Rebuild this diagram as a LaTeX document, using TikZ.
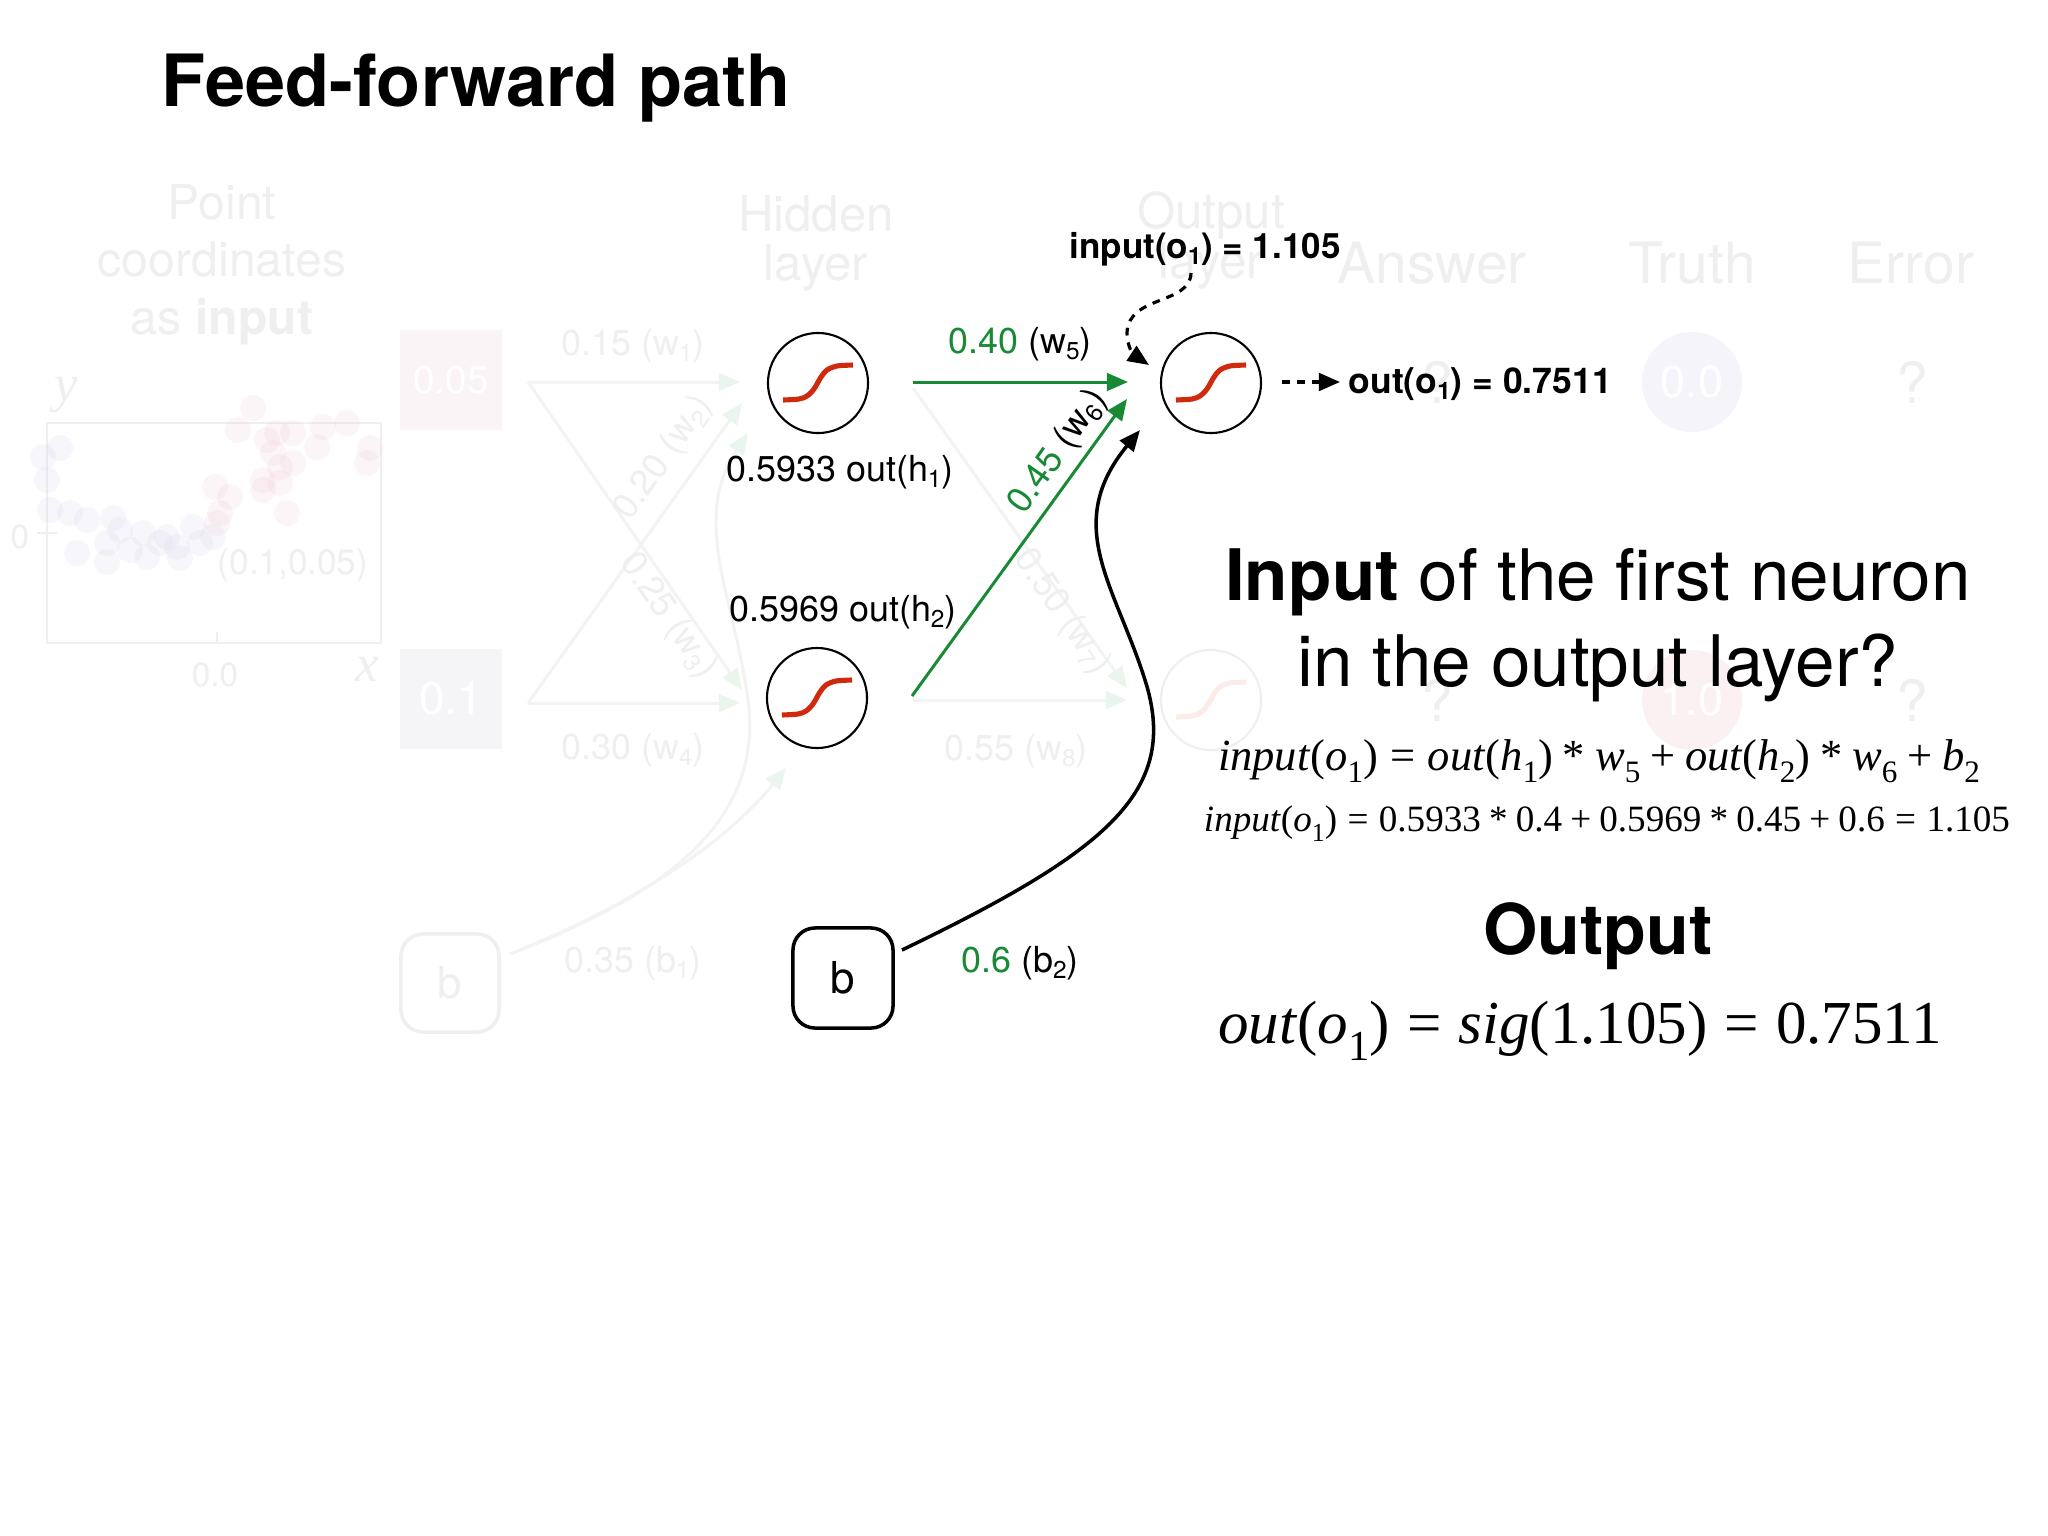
\documentclass[tikz,border=0pt]{standalone}
\usepackage{fontspec}
\setmainfont{TeX Gyre Heros}
\newfontfamily\tms{Liberation Serif}
\usepackage{graphicx}
\usetikzlibrary{arrows.meta}
\definecolor{gr}{RGB}{24,138,54}
\definecolor{sigred}{RGB}{208,42,14}
\definecolor{ghost}{RGB}{239,239,239}
\definecolor{ghostln}{RGB}{242,244,242}
\definecolor{ghostgreen}{RGB}{234,245,237}
\definecolor{ghostblue}{RGB}{215,212,235}
\definecolor{ghostpink}{RGB}{240,196,210}
\definecolor{ghostpbox}{RGB}{250,244,246}
\definecolor{ghostbbox}{RGB}{245,245,247}
\definecolor{ghostlav}{RGB}{245,244,250}
\definecolor{ghostrose}{RGB}{251,241,243}
\definecolor{ghostsig}{RGB}{251,236,232}
\newcommand{\fsz}[1]{\fontsize{#1}{#1}\selectfont}
\newcommand{\sbs}[1]{\raisebox{-0.18em}{\scalebox{0.68}{#1}}}
\newcommand{\msb}[1]{\raisebox{-0.28em}{\scalebox{0.7}{#1}}}
\newcommand{\ital}[1]{\textit{#1}}
\newcommand{\req}{\hspace{0.28em}=\hspace{0.28em}}
\newcommand{\rop}[1]{\hspace{0.22em}#1\hspace{0.22em}}
\newcommand{\sigcurve}{plot[smooth] coordinates {(-35,17) (-19,16) (-11,13) (-4,6) (3,-6) (9,-13) (19,-17) (35,-18)}}
\begin{document}
\begin{tikzpicture}[x=0.01cm,y=-0.01cm,
  neuron/.style={circle, draw=black, line width=0.6pt, minimum size=1cm, inner sep=0pt},
  sigline/.style={draw=sigred, line width=1.45pt, line cap=butt},
  garrow/.style={draw=gr, line width=0.85pt, -{Triangle[length=6pt,width=5pt]}},
  barrow/.style={draw=black, line width=1pt, -{Triangle[length=6pt,width=5pt]}},
  darrow/.style={draw=black, line width=0.9pt, dash pattern=on 2.2pt off 2pt, -{Triangle[length=6pt,width=5pt]}},
  lbl/.style={font=\fsz{10.2}, inner sep=0pt, anchor=base},
  blbl/.style={font=\fsz{9.8}\bfseries, inner sep=0pt, anchor=base},
  gtext/.style={text=ghost, inner sep=0pt, anchor=base},
  gline/.style={draw=ghostln, line width=0.85pt, -{Triangle[length=6pt,width=5pt,color=ghostgreen]}},
  dotb/.style={fill=ghostblue, fill opacity=0.2},
  dotp/.style={fill=ghostpink, fill opacity=0.17}
]
\useasboundingbox[fill=white] (0,0) rectangle (2048,1536);

% ---------------- ghost (faded) layer ----------------
\node[gtext, font=\fsz{13.7}] (gp1) at (222,219) {Point};
\node[gtext, font=\fsz{13.7}] (gp2) at (222,276) {coordinates};
\node[gtext, font=\fsz{13.7}] (gp3) at (222,334) {as \textbf{input}};
\node[gtext, font=\fsz{14}] (gh1) at (816,231) {Hidden};
\node[gtext, font=\fsz{14}] (gh2) at (816,280) {layer};
\node[gtext, font=\fsz{14}] (go1t) at (1211,228) {Output};
\node[gtext, font=\fsz{14}] (go2t) at (1211,278) {layer};
\node[gtext, font=\fsz{16.2}] (gans) at (1432,283) {Answer};
\node[gtext, font=\fsz{16.2}] (gtru) at (1692,283) {Truth};
\node[gtext, font=\fsz{16.2}] (gerr) at (1911,283) {Error};

% scatter plot
\draw[draw=ghost, line width=0.5pt] (47,423) rectangle (381,643);
\draw[draw=ghost, line width=0.5pt] (37,533) -- (57,533);
\draw[draw=ghost, line width=0.5pt] (217,632) -- (217,644);
\node[gtext, font=\tms\itshape\fsz{15}] (gy) at (66,401) {y};
\node[gtext, font=\tms\itshape\fsz{15}] (gx) at (367,681) {x};
\node[gtext, font=\fsz{9.5}] (g0) at (20,548) {0};
\node[gtext, font=\fsz{9.5}] (g00) at (215,686) {0.0};
\node[gtext, font=\fsz{10}] (gpt) at (293,574) {(0.1,0.05)};
\foreach \p in {(43,457),(60,448),(47,480),(50,510),(70,513),(87,520),(77,553),(113,518),(120,530),(107,543),(107,562),(130,550),(143,533),(147,557),(160,543),(167,537),(177,547),(180,558),(193,527),(200,543),(213,537)}
  \fill[dotb] \p circle[radius=0.13cm];
\foreach \p in {(215,487),(230,497),(220,513),(217,523),(253,408),(238,430),(267,440),(277,433),(293,433),(273,453),(280,467),(293,463),(263,480),(280,483),(263,490),(287,513),(317,447),(323,427),(347,423),(370,448),(367,463)}
  \fill[dotp] \p circle[radius=0.13cm];

% input boxes
\node[fill=ghostpbox, minimum width=1.02cm, minimum height=1cm, inner sep=0pt, text=white, font=\fsz{11}] (gin1) at (451,380) {0.05};
\node[fill=ghostbbox, minimum width=1.02cm, minimum height=1cm, inner sep=0pt, text=white, font=\fsz{13}] (gin2) at (451,699) {0.1};
\node[draw=ghost, line width=1pt, rounded corners=0.22cm, minimum size=0.98cm, inner sep=0pt, text=ghost, font=\fsz{12.5}] (gb1) at (450,983) {b};

\coordinate (gs1) at (528,382);
\coordinate (gs2) at (528,703);
\coordinate (ge1) at (740,382);
\coordinate (ge2) at (742,690);
\coordinate (ge3) at (742,403);
\coordinate (ge4) at (740,703);
\draw[gline] (gs1) -- (ge1);
\draw[gline] (gs1) -- (ge2);
\draw[gline] (gs2) -- (ge3);
\draw[gline] (gs2) -- (ge4);
\coordinate (gbs) at (510,954);
\coordinate (gbe1) at (748,433);
\coordinate (gbe2) at (786,768);
\draw[gline] (gbs) .. controls (650,900) and (765,830) .. (748,700) .. controls (735,600) and (690,520) .. (gbe1);
\draw[gline] (gbs) .. controls (620,910) and (720,850) .. (gbe2);

\node[gtext, font=\fsz{10.2}] (gw1) at (633,355) {0.15 (w\sbs{1})};
\node[gtext, font=\fsz{10.2}] (gw4) at (633,759) {0.30 (w\sbs{4})};
\node[gtext, font=\fsz{10.2}] (gb1l) at (633,972) {0.35 (b\sbs{1})};
\node[gtext, font=\fsz{10.2}, anchor=center, rotate=55] (gw2) at (664,458) {0.20 (w\sbs{2})};
\node[gtext, font=\fsz{10.2}, anchor=center, rotate=-55] (gw3) at (668,616) {0.25 (w\sbs{3})};

% hidden -> output (faded)
\coordinate (gh7s) at (913,388);
\coordinate (gh7e) at (1127,688);
\coordinate (gh8s) at (913,700);
\coordinate (gh8e) at (1127,700);
\draw[gline] (gh7s) -- (gh7e);
\draw[gline] (gh8s) -- (gh8e);
\node[gtext, font=\fsz{10.2}] (gw8) at (1016,760) {0.55 (w\sbs{8})};
\node[gtext, font=\fsz{10.2}, anchor=center, rotate=-55] (gw7) at (1062,612) {0.50 (w\sbs{7})};

\node[circle, draw=ghost, line width=0.6pt, minimum size=1cm, inner sep=0pt] (go2) at (1211,700) {};
\begin{scope}[shift={(go2)}]
  \draw[draw=ghostsig, line width=1.45pt] \sigcurve;
\end{scope}

\node[circle, fill=ghostlav, minimum size=1cm, inner sep=0pt, text=white, font=\fsz{12.8}] (gt1) at (1692,382) {0.0};
\node[circle, fill=ghostrose, minimum size=1cm, inner sep=0pt, text=white, font=\fsz{12.8}] (gt2) at (1692,700) {1.0};
\node[gtext, font=\fsz{16.2}] (gq1) at (1437,403) {?};
\node[gtext, font=\fsz{16.2}] (gq2) at (1437,721) {?};
\node[gtext, font=\fsz{16.2}] (gq3) at (1912,403) {?};
\node[gtext, font=\fsz{16.2}] (gq4) at (1912,721) {?};

% ---------------- main layer ----------------
\node[anchor=base west, inner sep=0pt, font=\fsz{20.5}\bfseries] (title) at (161,106) {Feed-forward path};

\node[neuron] (h1) at (818,383) {};
\node[neuron] (h2) at (817,698) {};
\node[neuron] (o1) at (1211,383) {};
\foreach \n in {h1,h2,o1} {
  \begin{scope}[shift={(\n)}]
    \draw[sigline] \sigcurve;
  \end{scope}
}
\node[draw=black, line width=1pt, rounded corners=0.22cm, minimum size=1cm, inner sep=0pt, font=\fsz{12.5}] (b2) at (843,978) {b};

\node[lbl] (lh1) at (840,481) {0.5933 out(h\sbs{1})};
\node[lbl] (lh2) at (843,621) {0.5969 out(h\sbs{2})};
\node[lbl] (lw5) at (1020,353) {{\color{gr}0.40} (w\sbs{5})};
\node[lbl, anchor=center, rotate=54.7] (lw6) at (1058,452) {{\color{gr}0.45} (w\sbs{6})};
\node[lbl] (lb2) at (1020,972) {{\color{gr}0.6} (b\sbs{2})};

\coordinate (w5s) at (913,382);
\coordinate (w5e) at (1128,382);
\coordinate (w6s) at (912,696);
\coordinate (w6e) at (1127,399);
\draw[garrow] (w5s) -- (w5e);
\draw[garrow] (w6s) -- (w6e);

\coordinate (bs) at (902,950);
\coordinate (be) at (1140,430);
\draw[barrow] (bs) .. controls (1110,850) and (1180,790) .. (1145,680) .. controls (1115,585) and (1062,525) .. (be);

\node[blbl, font=\fsz{9.95}\bfseries] (lin) at (1205,258) {input(o\sbs{1}) = 1.105};
\coordinate (ds) at (1191,273);
\coordinate (de) at (1149,365);
\draw[darrow] (ds) .. controls (1190,305) and (1128,295) .. (1127,333) .. controls (1127,347) and (1134,355) .. (de);

\node[blbl, font=\fsz{10.1}\bfseries, anchor=base west] (lout) at (1348,393) {out(o\sbs{1}) = 0.7511};
\coordinate (os) at (1282,382);
\coordinate (oe) at (1340,382);
\draw[darrow] (os) -- (oe);

\node[anchor=base, inner sep=0pt, font=\fsz{20.2}] (q1) at (1598,600) {\textbf{Input} of the first neuron};
\node[anchor=base, inner sep=0pt, font=\fsz{20.2}] (q2) at (1598,686) {in the output layer?};

\node[anchor=base, inner sep=0pt, font=\tms\fsz{12.66}] (e1) at (1599,770)
  {\ital{input}(\ital{o}\msb{1})\req\ital{out}(\ital{h}\msb{1})\rop{*}\ital{w}\msb{5}\rop{+}\ital{out}(\ital{h}\msb{2})\rop{*}\ital{w}\msb{6}\rop{+}\ital{b}\msb{2}};
\node[anchor=base, inner sep=0pt, font=\tms\fsz{10.55}] (e2) at (1607,831)
  {\ital{input}(\ital{o}\msb{1})\req 0.5933\rop{*}0.4\rop{+}0.5969\rop{*}0.45\rop{+}0.6\req 1.105};

\node[anchor=base, inner sep=0pt, font=\fsz{19.9}\bfseries] (outh) at (1598,954) {Output};
\node[anchor=base, inner sep=0pt, font=\tms\fsz{17.35}] (e3) at (1580,1043)
  {\ital{out}(\ital{o}\msb{1})\req\ital{sig}(1.105)\req 0.7511};
\end{tikzpicture}
\end{document}
